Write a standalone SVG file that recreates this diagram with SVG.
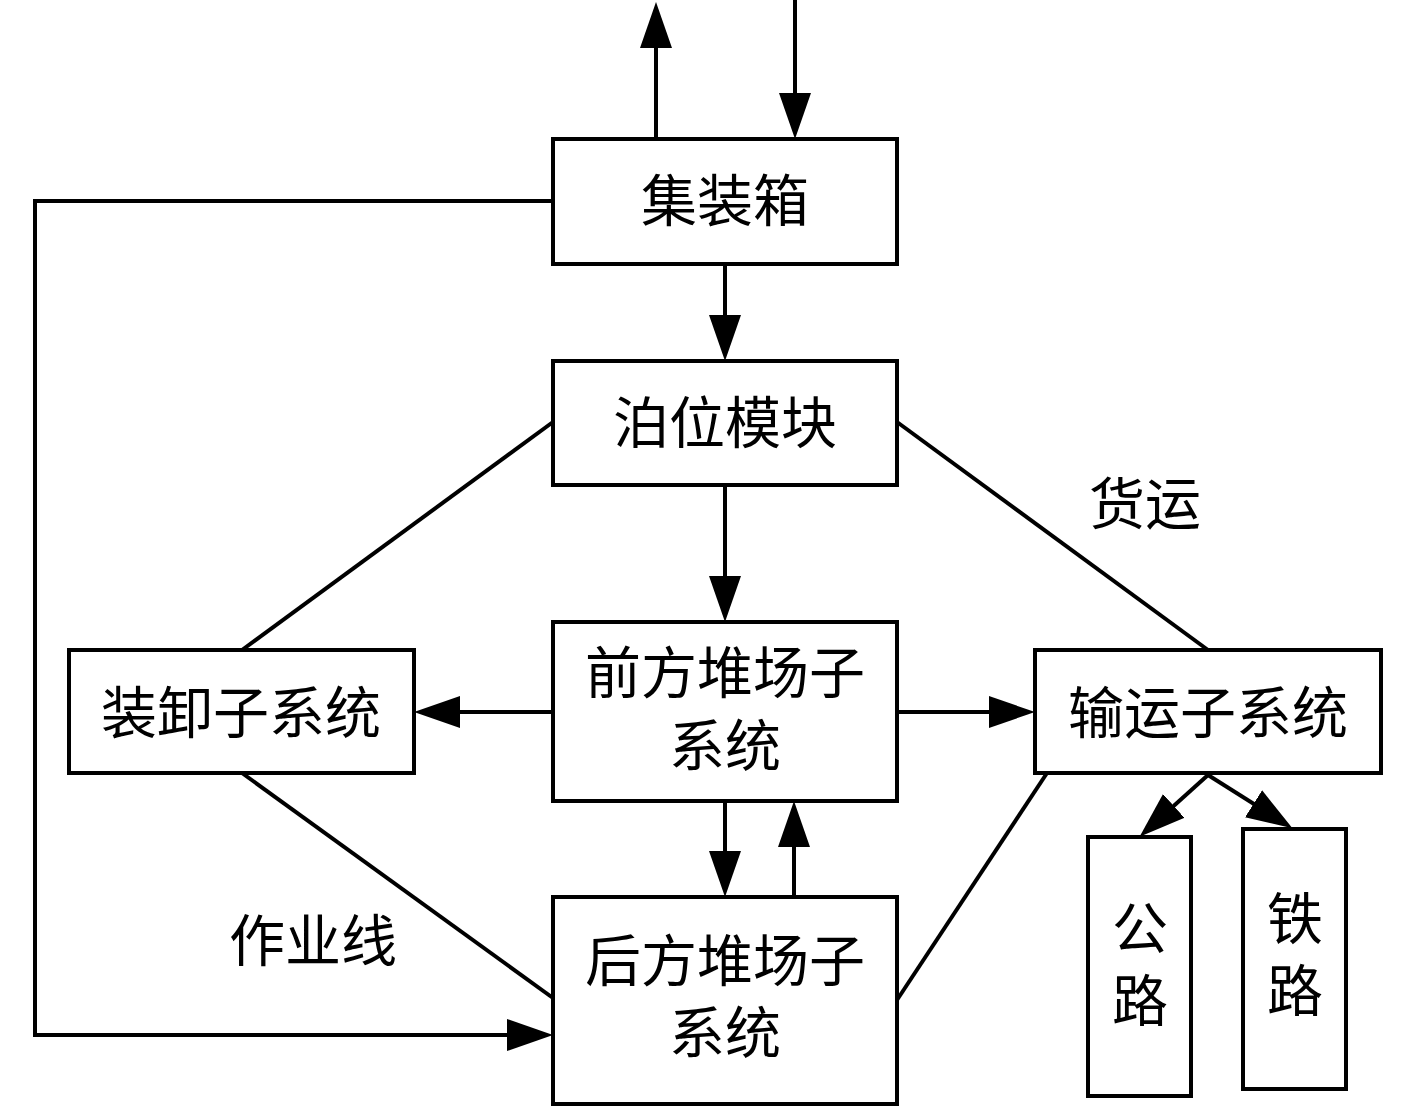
<svg xmlns="http://www.w3.org/2000/svg" width="1417" height="1107" viewBox="0 0 1417 1107">
<style>
.box{fill:#fff;stroke:#000;stroke-width:4}
.ln{fill:none;stroke:#000;stroke-width:4}
.ar{fill:none;stroke:#000;stroke-width:4;marker-end:url(#ah)}
text{font-family:"Liberation Serif","Noto Sans CJK SC",serif;font-size:56px;text-anchor:middle;fill:#000}
</style>
<defs>
<marker id="ah" markerUnits="userSpaceOnUse" markerWidth="46" markerHeight="32" refX="36" refY="16" orient="auto" viewBox="0 0 46 32">
<path d="M0,0 L46,16 L0,32 z" fill="#000"/>
</marker>
</defs>
<rect width="1417" height="1107" fill="#fff"/>
<g id="connectors">
<line class="ar" x1="656" y1="139" x2="656" y2="12"/>
<line class="ar" x1="795" y1="0" x2="795" y2="129"/>
<line class="ar" x1="725" y1="264" x2="725" y2="351"/>
<line class="ar" x1="725" y1="485" x2="725" y2="612"/>
<line class="ar" x1="553" y1="712" x2="424" y2="712"/>
<line class="ar" x1="897" y1="712" x2="1025" y2="712"/>
<line class="ar" x1="725" y1="801" x2="725" y2="887"/>
<line class="ar" x1="794" y1="897" x2="794" y2="811"/>
<polyline class="ar" points="553,201 35,201 35,1035 543,1035"/>
<line class="ln" x1="553" y1="422" x2="242" y2="650"/>
<line class="ln" x1="897" y1="422" x2="1208" y2="650"/>
<line class="ln" x1="242" y1="773" x2="553" y2="998"/>
<line class="ln" x1="1047" y1="773" x2="897" y2="1000"/>
<line class="ar" x1="1208" y1="775" x2="1147" y2="830"/>
<line class="ar" x1="1208" y1="775" x2="1284" y2="823"/>
</g>
<g id="n-container"><rect class="box" x="553" y="139" width="344" height="125"/><text x="725" y="221">集装箱</text></g>
<g id="n-berth"><rect class="box" x="553" y="361" width="344" height="124"/><text x="725" y="443">泊位模块</text></g>
<g id="n-front"><rect class="box" x="553" y="622" width="344" height="179"/><text x="725" y="693">前方堆场子</text><text x="725" y="766">系统</text></g>
<g id="n-rear"><rect class="box" x="553" y="897" width="344" height="207"/><text x="725" y="981">后方堆场子</text><text x="725" y="1053">系统</text></g>
<g id="n-handling"><rect class="box" x="69" y="650" width="345" height="123"/><text x="241" y="733">装卸子系统</text></g>
<g id="n-transport"><rect class="box" x="1035" y="650" width="346" height="123"/><text x="1208" y="733">输运子系统</text></g>
<g id="n-road"><rect class="box" x="1088" y="837" width="103" height="259"/><text x="1140" y="949">公</text><text x="1140" y="1021">路</text></g>
<g id="n-rail"><rect class="box" x="1243" y="829" width="103" height="260"/><text x="1295" y="939">铁</text><text x="1295" y="1011">路</text></g>
<g id="labels"><text x="1145" y="524">货运</text><text x="313" y="961">作业线</text></g>
</svg>
